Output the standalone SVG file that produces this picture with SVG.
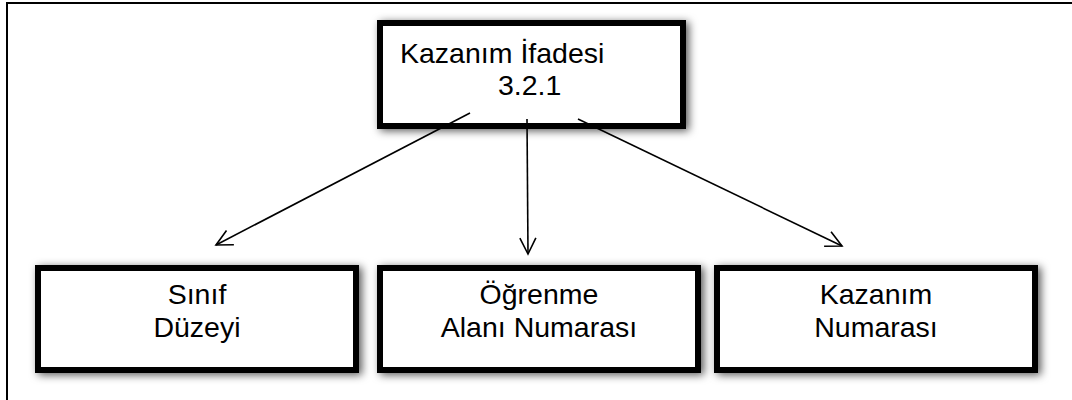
<svg xmlns="http://www.w3.org/2000/svg" width="1072" height="400" viewBox="0 0 1072 400">
<style>
.box{fill:#fff;stroke:#000;stroke-width:6;filter:url(#sh)}
.lbl{font-family:"Liberation Sans",Arial,sans-serif;font-size:28.5px;fill:#000}
.c{text-anchor:middle}
.con{stroke:#000;stroke-width:1.6;fill:none;marker-end:url(#ah)}
</style>
<defs>
<filter id="sh" x="-10%" y="-20%" width="120%" height="140%">
<feDropShadow dx="3" dy="2" stdDeviation="4" flood-color="#000" flood-opacity="0.65"/>
</filter>
<marker id="ah" markerUnits="userSpaceOnUse" markerWidth="20" markerHeight="20" viewBox="-18 -10 20 20" refX="0" refY="0" orient="auto">
<path d="M-16,-8 L0,0 L-16,8" fill="none" stroke="#000" stroke-width="1.6"/>
</marker>
</defs>
<rect width="1072" height="400" fill="#fff"/>
<path d="M7,400 L7,3 L1072,3" fill="none" stroke="#000" stroke-width="2"/>
<g id="top">
<rect class="box" x="380" y="23" width="303" height="103"/>
<text class="lbl" x="400" y="63">Kazanım İfadesi</text>
<text class="lbl" x="498" y="95">3.2.1</text>
</g>
<g id="sinif">
<rect class="box" x="38" y="268" width="318" height="102"/>
<text class="lbl c" x="197" y="304">Sınıf</text>
<text class="lbl c" x="197" y="337">Düzeyi</text>
</g>
<g id="ogrenme">
<rect class="box" x="380" y="268" width="318" height="102"/>
<text class="lbl c" x="539" y="304">Öğrenme</text>
<text class="lbl c" x="539" y="337">Alanı Numarası</text>
</g>
<g id="kazanim">
<rect class="box" x="717" y="268" width="318" height="102"/>
<text class="lbl c" x="876" y="304">Kazanım</text>
<text class="lbl c" x="876" y="337">Numarası</text>
</g>
<g id="connectors">
<line class="con" x1="470" y1="113" x2="216" y2="245"/>
<line class="con" x1="527" y1="119" x2="528" y2="254"/>
<line class="con" x1="578" y1="119" x2="842" y2="246"/>
</g>
</svg>
